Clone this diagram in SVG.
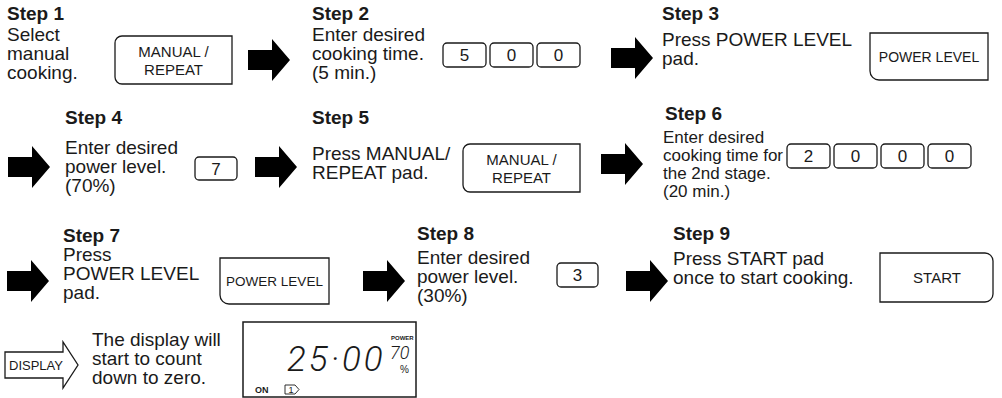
<svg xmlns="http://www.w3.org/2000/svg" width="1002" height="398" viewBox="0 0 1002 398">
<defs>
<style>
.t{font-family:"Liberation Sans",Arial,Helvetica,sans-serif;font-size:19px;fill:#1a1a1a}
.s6{font-size:17px}
.h{font-weight:bold}
.pad{fill:#fff;stroke:#1a1a1a;stroke-width:1.3}
.pt{font-family:"Liberation Sans",Arial,sans-serif;font-size:15px;fill:#1a1a1a;text-anchor:middle}
.dg{font-family:"Liberation Sans",Arial,sans-serif;font-size:17px;fill:#1a1a1a;text-anchor:middle}
.seg{font-family:Roboto,"DejaVu Sans",sans-serif;font-style:italic;font-weight:300;fill:#1a1a1a}
.sm{font-family:"Liberation Sans",Arial,sans-serif;fill:#1a1a1a}
</style>
<path id="arr" d="M0,11 H24 V0 L42,21 L24,42 V31 H0 Z" fill="#000"/>
</defs>
<rect width="1002" height="398" fill="#fff"/>

<g id="connectors">
<use href="#arr" x="248" y="39"/>
<use href="#arr" x="611" y="37"/>
<use href="#arr" x="8" y="146"/>
<use href="#arr" x="255" y="146"/>
<use href="#arr" x="601" y="143"/>
<use href="#arr" x="7" y="260"/>
<use href="#arr" x="363" y="260"/>
<use href="#arr" x="626" y="260"/>
</g>

<g id="step1">
<text class="t h" x="7" y="20">Step 1</text>
<text class="t" x="7" y="41">Select</text>
<text class="t" x="7" y="60">manual</text>
<text class="t" x="7" y="79">cooking.</text>
<path class="pad" d="M122,36 H232 V84 H122 A7,7 0 0 1 115,77 V43 A7,7 0 0 1 122,36 Z"/>
<text class="pt" x="173.5" y="57">MANUAL /</text>
<text class="pt" x="173.5" y="75">REPEAT</text>
</g>

<g id="step2">
<text class="t h" x="312" y="20">Step 2</text>
<text class="t" x="312" y="41">Enter desired</text>
<text class="t" x="312" y="60">cooking time.</text>
<text class="t" x="312" y="79">(5 min.)</text>
<rect class="pad" x="443" y="43" width="43" height="24" rx="4"/>
<rect class="pad" x="490" y="43" width="43" height="24" rx="4"/>
<rect class="pad" x="537" y="43" width="43" height="24" rx="4"/>
<text class="dg" x="464.5" y="61">5</text>
<text class="dg" x="511.5" y="61">0</text>
<text class="dg" x="558.5" y="61">0</text>
</g>

<g id="step3">
<text class="t h" x="662" y="20">Step 3</text>
<text class="t" x="662" y="46">Press POWER LEVEL</text>
<text class="t" x="662" y="65">pad.</text>
<path class="pad" d="M870,33 H988 V80 H879 A9,9 0 0 1 870,71 Z"/>
<text class="pt" x="929" y="62" style="font-size:14px">POWER LEVEL</text>
</g>

<g id="step4">
<text class="t h" x="65" y="124">Step 4</text>
<text class="t" x="65" y="154">Enter desired</text>
<text class="t" x="65" y="173">power level.</text>
<text class="t" x="65" y="192">(70%)</text>
<rect class="pad" x="195" y="157" width="42" height="23" rx="4"/>
<text class="dg" x="216" y="175">7</text>
</g>

<g id="step5">
<text class="t h" x="312" y="124">Step 5</text>
<text class="t" x="312" y="160">Press MANUAL/</text>
<text class="t" x="312" y="179">REPEAT pad.</text>
<path class="pad" d="M470,144 H580 V192 H470 A7,7 0 0 1 463,185 V151 A7,7 0 0 1 470,144 Z"/>
<text class="pt" x="521.5" y="165">MANUAL /</text>
<text class="pt" x="521.5" y="183">REPEAT</text>
</g>

<g id="step6">
<text class="t h" x="665" y="120">Step 6</text>
<text class="t s6" x="663" y="143">Enter desired</text>
<text class="t s6" x="663" y="161">cooking time for</text>
<text class="t s6" x="663" y="179">the 2nd stage.</text>
<text class="t s6" x="663" y="197">(20 min.)</text>
<rect class="pad" x="787" y="144" width="43" height="24" rx="4"/>
<rect class="pad" x="834" y="144" width="43" height="24" rx="4"/>
<rect class="pad" x="881" y="144" width="43" height="24" rx="4"/>
<rect class="pad" x="928" y="144" width="43" height="24" rx="4"/>
<text class="dg" x="808.5" y="162">2</text>
<text class="dg" x="855.5" y="162">0</text>
<text class="dg" x="902.5" y="162">0</text>
<text class="dg" x="949.5" y="162">0</text>
</g>

<g id="step7">
<text class="t h" x="63" y="242">Step 7</text>
<text class="t" x="63" y="261">Press</text>
<text class="t" x="63" y="280">POWER LEVEL</text>
<text class="t" x="63" y="299">pad.</text>
<path class="pad" d="M220,258 H329 V304 H229 A9,9 0 0 1 220,295 Z"/>
<text class="pt" x="274.5" y="286" style="font-size:13.5px">POWER LEVEL</text>
</g>

<g id="step8">
<text class="t h" x="417" y="240">Step 8</text>
<text class="t" x="417" y="264">Enter desired</text>
<text class="t" x="417" y="283">power level.</text>
<text class="t" x="417" y="302">(30%)</text>
<rect class="pad" x="557" y="263" width="41" height="24" rx="4"/>
<text class="dg" x="577.5" y="281">3</text>
</g>

<g id="step9">
<text class="t h" x="673" y="240">Step 9</text>
<text class="t" x="673" y="265">Press START pad</text>
<text class="t" x="673" y="284">once to start cooking.</text>
<path class="pad" d="M880,253 H985 A8,8 0 0 1 993,261 V294 A8,8 0 0 1 985,302 H880 Z"/>
<text class="pt" x="937" y="283">START</text>
</g>

<g id="display">
<path d="M5,352 H63 V342 L78,365 L63,388 V378 H5 Z" fill="#fff" stroke="#1a1a1a" stroke-width="1.3"/>
<text class="sm" x="9" y="370" style="font-size:13px">DISPLAY</text>
<text class="t" x="92" y="346">The display will</text>
<text class="t" x="92" y="365">start to count</text>
<text class="t" x="92" y="384">down to zero.</text>
<rect x="243" y="322" width="173" height="75" fill="#fff" stroke="#1a1a1a" stroke-width="1.5"/>
<text class="seg" x="287" y="371" style="font-size:35px;letter-spacing:3px">25·00</text>
<text class="sm" x="391" y="340" style="font-size:6px;font-weight:bold">POWER</text>
<text class="seg" x="390" y="359" style="font-size:18px">70</text>
<text class="sm" x="400" y="373" style="font-size:10px">%</text>
<text class="sm" x="255" y="393" style="font-size:9px;font-weight:bold">ON</text>
<path d="M285,385 H295 L299,389.5 L295,394 H285 Z" fill="none" stroke="#1a1a1a" stroke-width="0.9"/>
<text class="sm" x="288.5" y="393" style="font-size:9px">1</text>
</g>
</svg>
